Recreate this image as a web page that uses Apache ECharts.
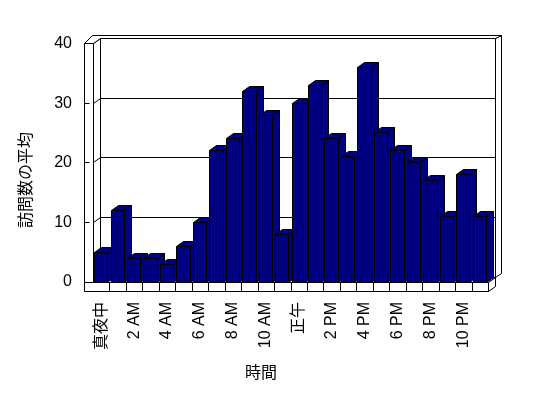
<!DOCTYPE html>
<html>
<head>
<meta charset="utf-8">
<style>
  html, body { margin: 0; padding: 0; background: #ffffff; }
  #chart { width: 548px; height: 398px; }
</style>
<script src="https://cdn.jsdelivr.net/npm/echarts@6/dist/echarts.min.js"></script>
</head>
<body>
<div id="chart"></div>
<script>
// ---- data ----
const categories = ['真夜中', '1 AM', '2 AM', '3 AM', '4 AM', '5 AM', '6 AM', '7 AM', '8 AM', '9 AM', '10 AM', '11 AM',
                    '正午', '1 PM', '2 PM', '3 PM', '4 PM', '5 PM', '6 PM', '7 PM', '8 PM', '9 PM', '10 PM', '11 PM'];
const visits = [5, 12, 4, 4, 3, 6, 10, 22, 24, 32, 28, 8, 30, 33, 24, 21, 36, 25, 22, 20, 17, 11, 18, 11];
const yTicks = [0, 10, 20, 30, 40];
const xTitle = '時間';
const yTitle = '訪問数の平均';

// ---- styling ----
const FONT = '"Liberation Sans", "Noto Sans CJK JP", sans-serif';
const BAR_COLOR = '#000080';
const DX = 7, DY = -5;      // depth of the 3D box
const WALL = 9;             // left wall thickness
const FLOOR = 9;            // floor thickness
const px = v => Math.floor(v) + 0.5;

function poly(points, fill) {
  return { type: 'polygon', shape: { points: points }, style: { fill: fill, stroke: '#000', lineWidth: 1 } };
}
function line(x1, y1, x2, y2) {
  return { type: 'line', shape: { x1: x1, y1: y1, x2: x2, y2: y2 }, style: { stroke: '#000', lineWidth: 1 } };
}

function renderFrame(params, api) {
  const band = api.size([1, 0])[0];
  const n = categories.length;
  const L = px(api.coord([0, 0])[0] - band / 2);
  const R = px(api.coord([n - 1, 0])[0] + band / 2);
  const B = px(api.coord([0, yTicks[0]])[1]);
  const T = px(api.coord([0, yTicks[yTicks.length - 1]])[1]);
  const ch = [];
  // back wall
  ch.push(poly([[L + DX, T + DY], [R + DX, T + DY], [R + DX, B + DY], [L + DX, B + DY]], '#fff'));
  // left wall inner face
  ch.push(poly([[L, T], [L + DX, T + DY], [L + DX, B + DY], [L, B]], '#fff'));
  // gridlines on walls
  for (let i = 1; i < yTicks.length - 1; i++) {
    const y = px(api.coord([0, yTicks[i]])[1]);
    ch.push(line(L, y, L + DX, y + DY));
    ch.push(line(L + DX, y + DY, R + DX, y + DY));
  }
  // floor top
  ch.push(poly([[L, B], [R, B], [R + DX, B + DY], [L + DX, B + DY]], '#fff'));
  // floor right side
  ch.push(poly([[R, B], [R + DX, B + DY], [R + DX, B + FLOOR + DY], [R, B + FLOOR]], '#fff'));
  // back wall right side
  ch.push(poly([[R + DX, T + DY], [R + 13, T - 8], [R + 13, B + DY - 4], [R + DX, B + DY]], '#fff'));
  // floor front with category dividers
  ch.push(poly([[L - WALL, B], [R, B], [R, B + FLOOR], [L - WALL, B + FLOOR]], '#fff'));
  for (let k = 1; k < n; k++) {
    const x = px(L + k * band);
    ch.push(line(x, B, x, B + FLOOR));
  }
  // left wall front face
  ch.push(poly([[L - WALL, T], [L, T], [L, B], [L - WALL, B]], '#fff'));
  // value ticks on the wall front
  for (let i = 1; i < yTicks.length - 1; i++) {
    const y = px(api.coord([0, yTicks[i]])[1]);
    ch.push(line(L - WALL, y, L - WALL + 5, y));
  }
  // top rim
  ch.push(poly([[L - WALL, T], [L - 1, T - 8], [R + 13, T - 8], [R + DX, T + DY], [L + DX, T + DY], [L, T]], '#fff'));
  return { type: 'group', children: ch };
}

function renderBar(params, api) {
  const band = api.size([1, 0])[0];
  const c = api.coord([api.value(0), api.value(1)]);
  const base = api.coord([api.value(0), 0]);
  const bw = band * 0.81;
  const xl = px(c[0] - bw / 2), xr = px(c[0] + bw / 2);
  const yt = px(c[1]), yb = px(base[1]);
  return {
    type: 'group',
    children: [
      poly([[xl, yt], [xr, yt], [xr, yb], [xl, yb]], BAR_COLOR),
      poly([[xl, yt], [xl + DX, yt + DY], [xr + DX, yt + DY], [xr, yt]], BAR_COLOR),
      poly([[xr, yt], [xr + DX, yt + DY], [xr + DX, yb + DY], [xr, yb]], BAR_COLOR)
    ]
  };
}

const chart = echarts.init(document.getElementById('chart'), null, { renderer: 'canvas' });
chart.setOption({
  animation: false,
  backgroundColor: '#ffffff',
  grid: { left: 93, top: 43.5, width: 395, height: 238.5, containLabel: false },
  xAxis: {
    type: 'category',
    data: categories,
    boundaryGap: true,
    axisLine: { show: false },
    axisTick: { show: false },
    splitLine: { show: false },
    axisLabel: { interval: 1, rotate: 90, margin: 20, fontSize: 16, color: '#000', fontFamily: FONT }
  },
  yAxis: {
    type: 'value',
    min: yTicks[0],
    max: yTicks[yTicks.length - 1],
    interval: 10,
    axisLine: { show: false },
    axisTick: { show: false },
    splitLine: { show: false },
    axisLabel: { margin: 21, fontSize: 16, color: '#000', fontFamily: FONT }
  },
  graphic: [
    { type: 'text', left: 245, top: 366, style: { text: xTitle, font: '16px ' + FONT, fill: '#000' } },
    { type: 'text', x: 27, y: 180, rotation: Math.PI / 2,
      style: { text: yTitle, font: '16px ' + FONT, fill: '#000', textAlign: 'center', textVerticalAlign: 'middle' } }
  ],
  series: [
    { type: 'custom', z: 1, renderItem: renderFrame, data: [[0, 0]], encode: { x: 0, y: 1 }, silent: true },
    { type: 'custom', z: 2, renderItem: renderBar, data: visits.map((v, i) => [i, v]), encode: { x: 0, y: 1 } }
  ]
});
</script>
</body>
</html>
